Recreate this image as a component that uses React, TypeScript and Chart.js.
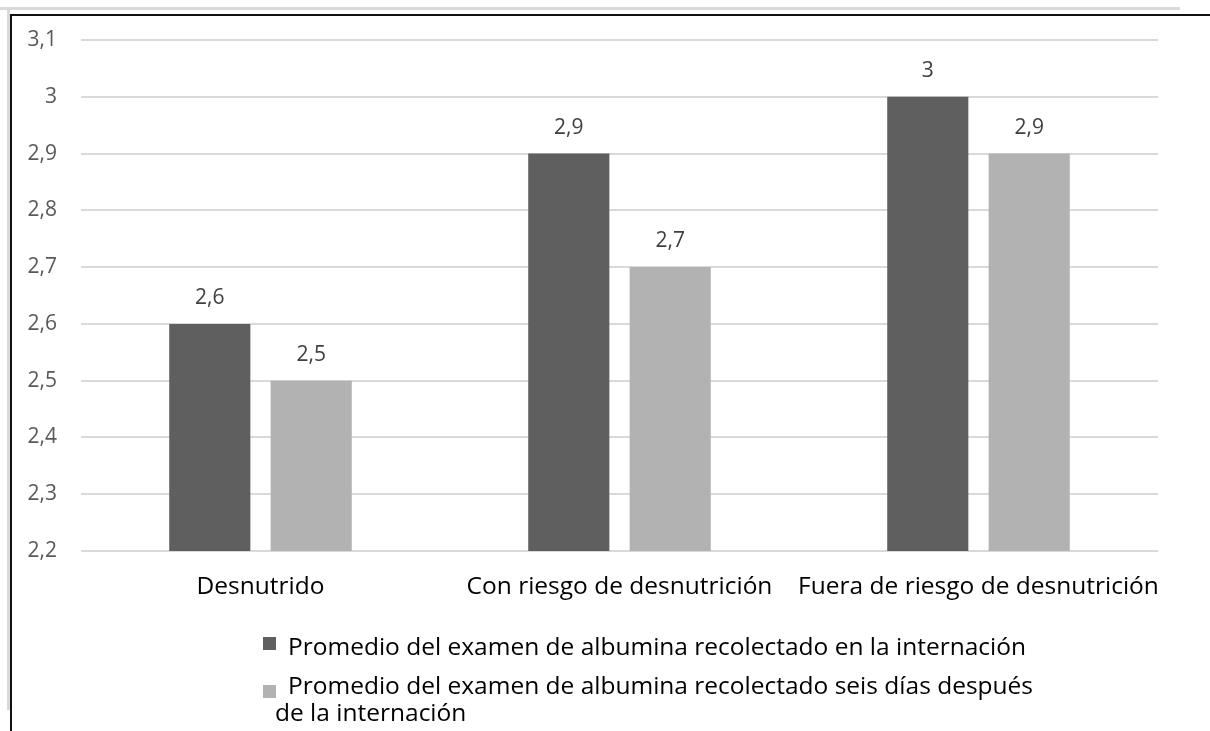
import React, { useEffect, useRef } from "react";
import { Chart, registerables } from "chart.js";

Chart.register(...registerables);

const categories = ["Desnutrido", "Con riesgo de desnutrición", "Fuera de riesgo de desnutrición"];
const seriesNames = [
  "Promedio del examen de albumina recolectado en la internación",
  "Promedio del examen de albumina recolectado seis días después de la internación",
];
const valuesInternacion = [2.6, 2.9, 3.0];
const valuesSeisDias = [2.5, 2.7, 2.9];
const yTicks = [2.2, 2.3, 2.4, 2.5, 2.6, 2.7, 2.8, 2.9, 3.0, 3.1];

const colors = ["#5f5f5f", "#b2b2b2"];
const FONT = "'Open Sans', Lato, sans-serif";

const fmt = (v: number) => String(Math.round(v * 10) / 10).replace(".", ",");

const labelPlugin = {
  id: "barLabels",
  afterDatasetsDraw(chart: any) {
    const ctx = chart.ctx;
    ctx.save();
    ctx.font = `21px ${FONT}`;
    ctx.fillStyle = "#404040";
    ctx.textAlign = "center";
    ctx.textBaseline = "middle";
    chart.data.datasets.forEach((ds: any, i: number) => {
      const meta = chart.getDatasetMeta(i);
      meta.data.forEach((bar: any, j: number) => {
        ctx.fillText(fmt(ds.data[j]), bar.x, bar.y - 26);
      });
    });
    ctx.restore();
  },
};

export default function App() {
  const ref = useRef<HTMLCanvasElement | null>(null);
  useEffect(() => {
    if (!ref.current) return;
    const chart = new Chart(ref.current, {
      type: "bar",
      data: {
        labels: categories,
        datasets: [
          { label: seriesNames[0], data: valuesInternacion, backgroundColor: colors[0] },
          { label: seriesNames[1], data: valuesSeisDias, backgroundColor: colors[1] },
        ],
      },
      options: {
        animation: false,
        responsive: false,
        maintainAspectRatio: false,
        layout: { padding: { left: 0, top: 40, right: 52, bottom: 120 } },
        datasets: { bar: { categoryPercentage: 0.565, barPercentage: 0.8 } } as any,
        plugins: {
          legend: { display: false },
          tooltip: { enabled: false },
        },
        scales: {
          x: {
            grid: { display: false, drawTicks: false },
            border: { display: false },
            ticks: {
              padding: 21,
              color: "#000000",
              font: { size: 24.5, family: FONT },
              maxRotation: 0,
              minRotation: 0,
              autoSkip: false,
            },
            afterFit: (s: any) => { s.height = 60; },
          },
          y: {
            min: 2.2,
            max: 3.1,
            afterBuildTicks: (s: any) => { s.ticks = yTicks.map((v) => ({ value: v })); },
            grid: { color: "#d9d9d9", lineWidth: 2, drawTicks: false },
            border: { display: false },
            ticks: {
              padding: 24,
              color: "#595959",
              font: { size: 21, family: FONT },
              callback: (v: any) => fmt(Number(v)),
            },
            afterFit: (s: any) => { s.width = 81; },
          },
        },
      },
      plugins: [labelPlugin],
    });
    return () => chart.destroy();
  }, []);

  const legendText: React.CSSProperties = {
    position: "absolute",
    fontFamily: FONT,
    fontSize: 24.5,
    color: "#000",
    whiteSpace: "nowrap",
    lineHeight: "26px",
  };
  const sq = (c: string, top: number): React.CSSProperties => ({
    position: "absolute", left: 263, top, width: 13, height: 13, background: c,
  });

  return (
    <div style={{ position: "fixed", left: 0, top: 0, width: 1210, height: 731, background: "#fff", overflow: "hidden" }}>
      <canvas ref={ref} width={1210} height={731} style={{ position: "absolute", left: 0, top: 0 }} />
      <div style={{ position: "absolute", left: 0, top: 7, width: 1180, height: 3, background: "#d9d9d9" }} />
      <div style={{ position: "absolute", left: 7, top: 8, width: 3, height: 702, background: "#d9d9d9" }} />
      <div style={{ position: "absolute", left: 10, top: 14, width: 1200, height: 2, background: "#111" }} />
      <div style={{ position: "absolute", left: 10, top: 14, width: 2, height: 717, background: "#111" }} />
      <div style={sq(colors[0], 637)} />
      <div style={{ ...legendText, left: 288, top: 633 }}>{seriesNames[0]}</div>
      <div style={sq(colors[1], 685)} />
      <div style={{ ...legendText, left: 288, top: 672 }}>Promedio del examen de albumina recolectado seis días después</div>
      <div style={{ ...legendText, left: 275, top: 699 }}>de la internación</div>
    </div>
  );
}
